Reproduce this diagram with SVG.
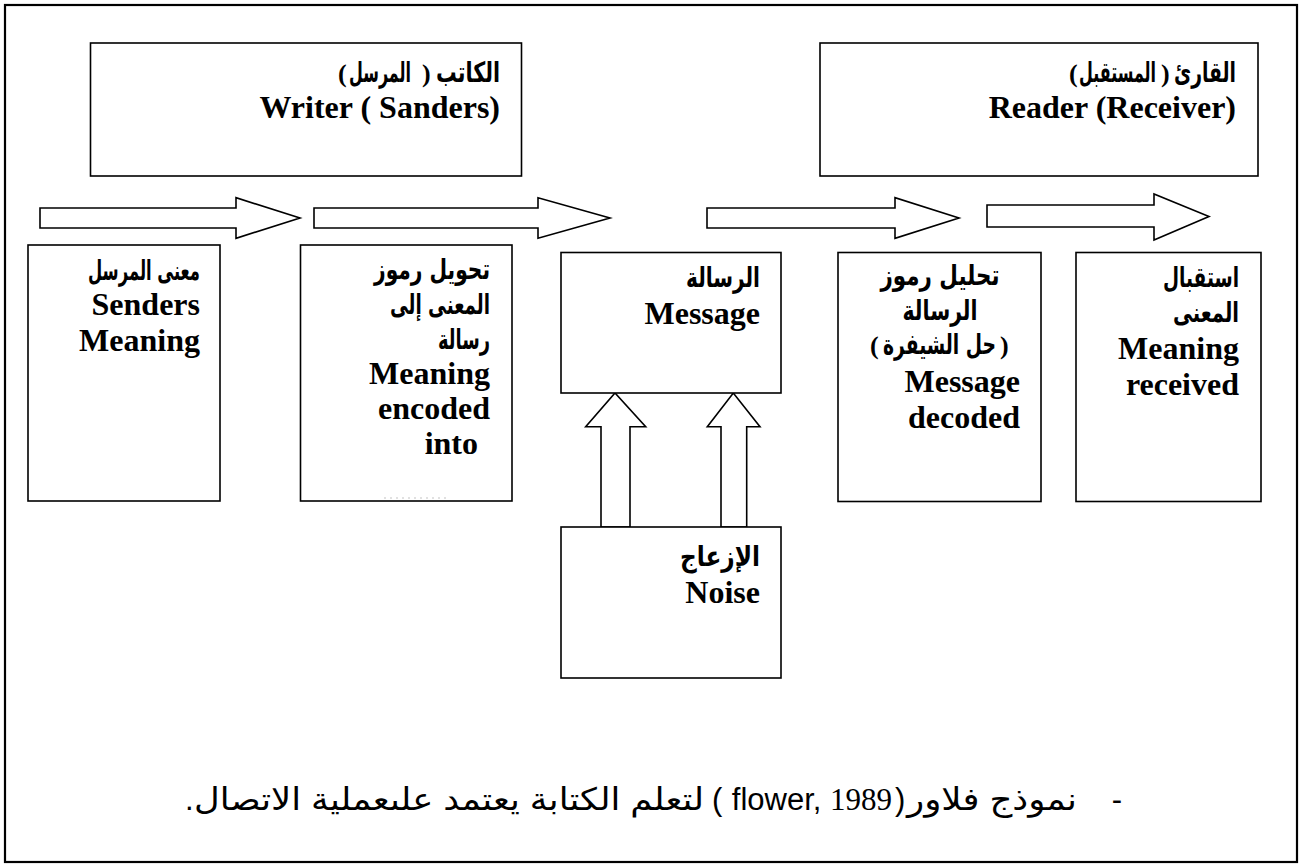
<svg xmlns="http://www.w3.org/2000/svg" width="1302" height="868" viewBox="0 0 1302 868">
  <style>
    .frame { fill: none; stroke: #000; stroke-width: 2.2; }
    .box { fill: #fff; stroke: #000; stroke-width: 1.6; }
    .arr { fill: #fff; stroke: #000; stroke-width: 1.6; stroke-linejoin: miter; }
    .en { font-family: 'Liberation Serif', 'Times New Roman', serif; font-weight: bold; font-size: 32px; fill: #000; text-anchor: end; }
    .ar { font-family: 'DejaVu Sans', 'Noto Sans', sans-serif; font-weight: bold; font-size: 28px; fill: #000; text-anchor: end; }
    .par { font-family: 'Liberation Serif', 'Times New Roman', serif; font-weight: bold; font-size: 26px; fill: #000; }
    .mid { text-anchor: middle; }
    .cap { font-family: 'Liberation Sans', 'DejaVu Sans', sans-serif; font-size: 31px; fill: #000; }
    .num { font-family: 'Liberation Serif', serif; }
  </style>

  <rect width="1302" height="868" fill="#fff"/>
  <rect class="frame" x="5" y="5" width="1292" height="857"/>

  <!-- process arrows -->
  <g id="connectors">
    <path class="arr" d="M40,208 H236 V197.7 L300,218 L236,238.3 V228 H40 Z"/>
    <path class="arr" d="M314,208 H538 V197.7 L610,218 L538,238.3 V228 H314 Z"/>
    <path class="arr" d="M707,208 H895 V197.7 L959,218 L895,238.3 V228 H707 Z"/>
    <path class="arr" d="M987,205 H1154 V194 L1209,216.5 L1154,240 V227 H987 Z"/>
    <path class="arr" d="M601,527 V426.7 H585.7 L615,393 L645.7,426.7 H630 V527 Z"/>
    <path class="arr" d="M721,527 V426.7 H707.3 L733.3,393 L760,426.7 H746.7 V527 Z"/>
  </g>

  <!-- header boxes; the Arabic line is laid out word by word, parentheses drawn in visual order -->
  <g id="writer">
    <rect class="box" x="90.5" y="43" width="431" height="133"/>
    <text class="ar" x="500" y="82" textLength="64" lengthAdjust="spacingAndGlyphs">الكاتب</text>
    <text class="par" x="422" y="82">)</text>
    <text class="ar" x="411" y="82" textLength="62" lengthAdjust="spacingAndGlyphs">المرسل</text>
    <text class="par" x="338" y="82">(</text>
    <text class="en" x="500" y="118">Writer ( Sanders)</text>
  </g>

  <g id="reader">
    <rect class="box" x="820" y="43" width="438" height="133"/>
    <text class="ar" x="1236" y="82" textLength="62" lengthAdjust="spacingAndGlyphs">القارئ</text>
    <text class="par" x="1161" y="82">)</text>
    <text class="ar" x="1156" y="82" textLength="77" lengthAdjust="spacingAndGlyphs">المستقبل</text>
    <text class="par" x="1069" y="82">(</text>
    <text class="en" x="1236" y="118">Reader (Receiver)</text>
  </g>

  <g id="senders-meaning">
    <rect class="box" x="28" y="245" width="192" height="256"/>
    <text class="ar" x="200" y="280" textLength="112" lengthAdjust="spacingAndGlyphs">معنى المرسل</text>
    <text class="en" x="200" y="315">Senders</text>
    <text class="en" x="200" y="351">Meaning</text>
  </g>

  <g id="encoding">
    <rect class="box" x="300.5" y="245" width="211.5" height="256"/>
    <text class="ar" x="490" y="279" textLength="116" lengthAdjust="spacingAndGlyphs">تحويل رموز</text>
    <text class="ar" x="490" y="314" textLength="100" lengthAdjust="spacingAndGlyphs">المعنى إلى</text>
    <text class="ar" x="490" y="349" textLength="52" lengthAdjust="spacingAndGlyphs">رسالة</text>
    <text class="en" x="490" y="384">Meaning</text>
    <text class="en" x="490" y="419">encoded</text>
    <text class="en" x="478" y="454">into</text>
    <line x1="384" y1="498" x2="450" y2="498" stroke="#d8d8d8" stroke-width="1.5" stroke-dasharray="2 4"/>
  </g>

  <g id="message">
    <rect class="box" x="561" y="252.5" width="220" height="140.5"/>
    <text class="ar" x="760" y="287" textLength="74" lengthAdjust="spacingAndGlyphs">الرسالة</text>
    <text class="en" x="760" y="324">Message</text>
  </g>

  <g id="noise">
    <rect class="box" x="561" y="527" width="220" height="151"/>
    <text class="ar" x="760" y="566" textLength="80" lengthAdjust="spacingAndGlyphs">الإزعاج</text>
    <text class="en" x="760" y="603">Noise</text>
  </g>

  <g id="decoding">
    <rect class="box" x="838" y="252.5" width="203" height="249"/>
    <text class="ar mid" x="940" y="285" textLength="119" lengthAdjust="spacingAndGlyphs">تحليل رموز</text>
    <text class="ar mid" x="940" y="320" textLength="75" lengthAdjust="spacingAndGlyphs">الرسالة</text>
    <text class="par" x="870" y="354">(</text>
    <text class="ar" x="996" y="354" textLength="113" lengthAdjust="spacingAndGlyphs">حل الشيفرة</text>
    <text class="par" x="1000" y="354">)</text>
    <text class="en" x="1020" y="392">Message</text>
    <text class="en" x="1020" y="428">decoded</text>
  </g>

  <g id="receiving">
    <rect class="box" x="1076" y="252.5" width="185" height="249"/>
    <text class="ar" x="1239" y="287" textLength="76" lengthAdjust="spacingAndGlyphs">استقبال</text>
    <text class="ar" x="1239" y="322" textLength="66" lengthAdjust="spacingAndGlyphs">المعنى</text>
    <text class="en" x="1239" y="359">Meaning</text>
    <text class="en" x="1239" y="395">received</text>
  </g>

  <!-- caption, placed run by run from right to left -->
  <g id="caption">
    <text class="cap" x="1122" y="810" text-anchor="end">-</text>
    <text class="cap" x="1077" y="810" text-anchor="end" textLength="170" lengthAdjust="spacingAndGlyphs">نموذج فلاور</text>
    <text class="cap" x="895" y="810">)</text>
    <text class="cap" x="892" y="810" text-anchor="end">flower, <tspan class="num">1989</tspan></text>
    <text class="cap" x="712" y="810">(</text>
    <text class="cap" x="194" y="810" textLength="510" lengthAdjust="spacingAndGlyphs" text-anchor="start">لتعلم الكتابة يعتمد علىعملية الاتصال</text>
    <text class="cap" x="185" y="810">.</text>
  </g>
</svg>
